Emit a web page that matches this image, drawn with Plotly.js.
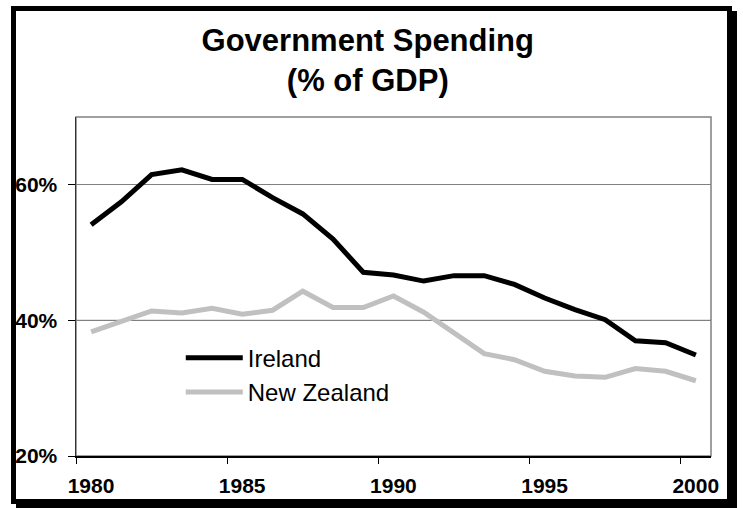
<!DOCTYPE html>
<html>
<head>
<meta charset="utf-8">
<script src="https://cdn.plot.ly/plotly-3.0.1.min.js"></script>
<style>
  html, body { margin: 0; padding: 0; background: #ffffff; overflow: hidden; }
  #frame { position: absolute; left: 11px; top: 6px; width: 711px; height: 488px;
           border: 5px solid #000; box-shadow: 5px 5px 0 #000; background: #fff; }
  #chart { position: absolute; left: 0; top: 0; width: 743px; height: 508px; }
</style>
</head>
<body>
<div id="frame"></div>
<div id="chart"></div>
<script>
// ---- data ----
const years = [1980, 1981, 1982, 1983, 1984, 1985, 1986, 1987, 1988, 1989, 1990,
               1991, 1992, 1993, 1994, 1995, 1996, 1997, 1998, 1999, 2000];
const ireland = [54.1, 57.5, 61.5, 62.2, 60.8, 60.8, 58.1, 55.7, 52.0, 47.1, 46.7,
                 45.8, 46.6, 46.6, 45.3, 43.3, 41.6, 40.1, 37.0, 36.7, 34.9];
const newZealand = [38.3, 39.8, 41.4, 41.1, 41.8, 40.9, 41.5, 44.3, 41.9, 41.9, 43.6,
                    41.2, 38.2, 35.1, 34.2, 32.5, 31.8, 31.6, 32.9, 32.5, 31.1];
const seriesNames = ['Ireland', 'New Zealand'];
const xTickBoundaries = [1979.5, 1984.5, 1989.5, 1994.5, 1999.5];
const xTickLabels = ['1980', '1985', '1990', '1995', '2000'];
const yTickVals = [20, 40, 60];
const yTickLabels = ['20%', '40%', '60%'];
const titleText = 'Government Spending<br>(% of GDP)';

const FONT = 'Liberation Sans, Arial, Helvetica, sans-serif';

const traces = [
  { x: years, y: ireland, name: seriesNames[0], type: 'scatter', mode: 'lines',
    line: { color: '#000000', width: 5 } },
  { x: years, y: newZealand, name: seriesNames[1], type: 'scatter', mode: 'lines',
    line: { color: '#c0c0c0', width: 5 } }
];

const layout = {
  width: 743, height: 508,
  margin: { l: 76, r: 32, t: 117, b: 52, pad: 0 },
  paper_bgcolor: 'rgba(0,0,0,0)',
  plot_bgcolor: '#ffffff',
  title: {
    text: titleText,
    font: { family: FONT, size: 31, color: '#000', weight: 'bold' },
    x: 0.495, xanchor: 'center', xref: 'container',
    y: 0.9, yanchor: 'top', yref: 'container'
  },
  xaxis: {
    range: [1979.5, 2000.5],
    tickmode: 'array', tickvals: xTickBoundaries, ticktext: xTickLabels,
    ticklabelshift: 15, ticklabelstandoff: 4,
    ticks: 'outside', ticklen: 6, tickwidth: 1, tickcolor: '#000',
    showline: true, linecolor: '#000', linewidth: 1.5,
    showgrid: false, zeroline: false, fixedrange: true,
    tickfont: { family: FONT, size: 21, color: '#000', weight: 'bold' }
  },
  yaxis: {
    range: [20, 70],
    tickmode: 'array', tickvals: yTickVals, ticktext: yTickLabels,
    ticks: 'outside', ticklen: 7, tickwidth: 1, tickcolor: '#000',
    ticklabelstandoff: 6,
    showline: true, linecolor: '#333', linewidth: 1.5,
    showgrid: true, gridcolor: '#808080', gridwidth: 1,
    zeroline: false, fixedrange: true,
    tickfont: { family: FONT, size: 21, color: '#000', weight: 'bold' }
  },
  shapes: [
    { type: 'rect', xref: 'paper', yref: 'paper', x0: 0, x1: 1, y0: 0, y1: 1,
      line: { color: '#808080', width: 1.5 }, layer: 'below' },
    { type: 'line', xref: 'paper', yref: 'y', x0: 0, x1: 1, y0: 40, y1: 40,
      line: { color: '#000', width: 1 }, layer: 'below' }
  ],
  showlegend: true,
  legend: {
    x: 0.165, xanchor: 'left', y: 0.355, yanchor: 'top',
    bgcolor: 'rgba(0,0,0,0)', borderwidth: 0,
    font: { family: FONT, size: 24, color: '#000' },
    itemwidth: 57, tracegroupgap: 0
  }
};

Plotly.newPlot('chart', traces, layout, { staticPlot: true, displayModeBar: false });
</script>
</body>
</html>
